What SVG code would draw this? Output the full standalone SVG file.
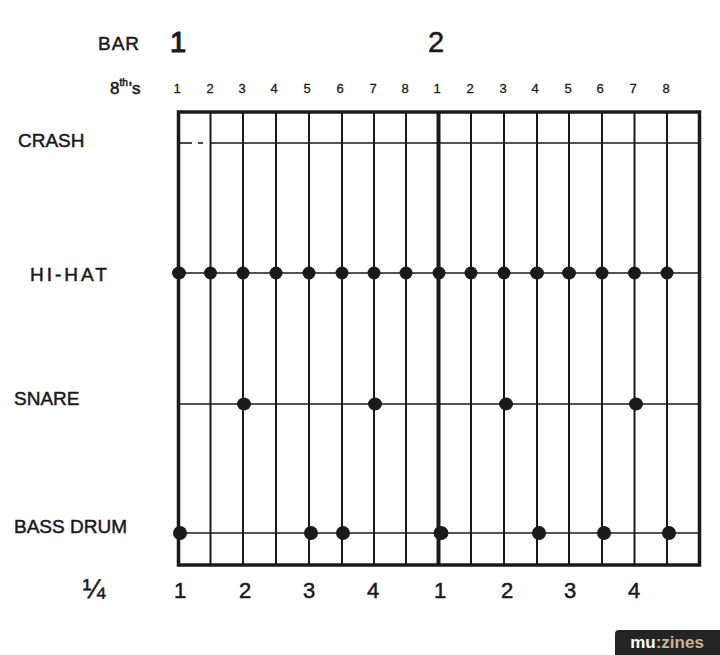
<svg xmlns="http://www.w3.org/2000/svg" width="720" height="655" viewBox="0 0 720 655">
<style>
text{font-family:"Liberation Sans","DejaVu Sans",sans-serif;fill:#1a1a1a}
.ink{stroke:#1a1a1a;stroke-width:0.5}
.lbl{font-size:19px}
.num{font-size:13px;text-anchor:middle;stroke-width:0.3}
.q{font-size:22px;text-anchor:middle}
.v{stroke:#1a1a1a;stroke-width:2}
.h{stroke:#1a1a1a;stroke-width:1.6}
.dot{fill:#1a1a1a}
</style>
<rect width="720" height="655" fill="#fff"/>
<g id="header" class="ink">
<text x="98" y="50" font-size="19" letter-spacing="1">BAR</text>
<text x="178" y="52" font-size="29" text-anchor="middle" stroke-width="1.2">1</text>
<text x="436" y="52" font-size="29" text-anchor="middle">2</text>
<text x="110" y="94" font-size="17">8<tspan font-size="10" dy="-8">th</tspan><tspan dy="8" dx="1">'s</tspan></text>
<text class="num" x="177" y="93">1</text><text class="num" x="210" y="93">2</text><text class="num" x="242" y="93">3</text><text class="num" x="274" y="93">4</text><text class="num" x="307" y="93">5</text><text class="num" x="340" y="93">6</text><text class="num" x="373" y="93">7</text><text class="num" x="405" y="93">8</text>
<text class="num" x="437" y="93">1</text><text class="num" x="470" y="93">2</text><text class="num" x="503" y="93">3</text><text class="num" x="535" y="93">4</text><text class="num" x="568" y="93">5</text><text class="num" x="600" y="93">6</text><text class="num" x="633" y="93">7</text><text class="num" x="666" y="93">8</text>
</g>
<g id="instruments" class="ink">
<text class="lbl" x="18" y="147">CRASH</text>
<text class="lbl" x="30" y="281" letter-spacing="3">HI-HAT</text>
<text class="lbl" x="14" y="405">SNARE</text>
<text class="lbl" x="14" y="533">BASS DRUM</text>
</g>
<g id="grid">
<line class="h" x1="180" y1="143" x2="192" y2="143"/>
<line class="h" x1="198" y1="143" x2="203" y2="143"/>
<line class="h" x1="210" y1="143" x2="700" y2="143"/>
<line class="h" x1="178" y1="273" x2="700" y2="273"/>
<line class="h" x1="178" y1="404" x2="700" y2="404"/>
<line class="h" x1="178" y1="533" x2="700" y2="533"/>
<g class="v">
<line x1="210.5" y1="112" x2="210.5" y2="565"/><line x1="243" y1="112" x2="243" y2="565"/><line x1="276" y1="112" x2="276" y2="565"/><line x1="309" y1="112" x2="309" y2="565"/><line x1="342" y1="112" x2="342" y2="565"/><line x1="374" y1="112" x2="374" y2="565"/><line x1="406" y1="112" x2="406" y2="565"/>
<line x1="471" y1="112" x2="471" y2="565"/><line x1="504" y1="112" x2="504" y2="565"/><line x1="537" y1="112" x2="537" y2="565"/><line x1="569" y1="112" x2="569" y2="565"/><line x1="602" y1="112" x2="602" y2="565"/><line x1="634.5" y1="112" x2="634.5" y2="565"/><line x1="667" y1="112" x2="667" y2="565"/>
</g>
<line x1="438.5" y1="112" x2="438.5" y2="565" stroke="#1a1a1a" stroke-width="4"/>
<rect x="178.5" y="112" width="521" height="453" fill="none" stroke="#1a1a1a" stroke-width="3.5"/>
</g>
<g id="hihat-hits">
<ellipse class="dot" cx="179" cy="273" rx="7" ry="6.5"/><ellipse class="dot" cx="210.5" cy="273" rx="6.5" ry="6.5"/><ellipse class="dot" cx="243" cy="273" rx="6.5" ry="6.5"/><ellipse class="dot" cx="276" cy="273" rx="6.5" ry="6.5"/><ellipse class="dot" cx="309" cy="273" rx="6.5" ry="6.5"/><ellipse class="dot" cx="342" cy="273" rx="6.5" ry="6.5"/><ellipse class="dot" cx="374" cy="273" rx="6.5" ry="6.5"/><ellipse class="dot" cx="406" cy="273" rx="6.5" ry="6.5"/>
<ellipse class="dot" cx="439" cy="273" rx="6.5" ry="6.5"/><ellipse class="dot" cx="471" cy="273" rx="6.5" ry="6.5"/><ellipse class="dot" cx="504" cy="273" rx="6.5" ry="6.5"/><ellipse class="dot" cx="537" cy="273" rx="7" ry="6.5"/><ellipse class="dot" cx="569" cy="273" rx="7" ry="6.5"/><ellipse class="dot" cx="602" cy="273" rx="6.5" ry="6.5"/><ellipse class="dot" cx="634.5" cy="273" rx="6.5" ry="6.5"/><ellipse class="dot" cx="667" cy="273" rx="6.5" ry="6.5"/>
</g>
<g id="snare-hits">
<ellipse class="dot" cx="244" cy="404" rx="7" ry="6.5"/><ellipse class="dot" cx="375" cy="404" rx="7" ry="6.5"/><ellipse class="dot" cx="506" cy="404" rx="7" ry="6.5"/><ellipse class="dot" cx="636" cy="404" rx="7" ry="6.5"/>
</g>
<g id="bass-hits">
<ellipse class="dot" cx="180" cy="533" rx="7" ry="7"/><ellipse class="dot" cx="311" cy="533" rx="7" ry="7"/><ellipse class="dot" cx="343" cy="533" rx="7" ry="7"/><ellipse class="dot" cx="441" cy="533" rx="7.5" ry="7"/><ellipse class="dot" cx="539" cy="533" rx="7" ry="7"/><ellipse class="dot" cx="604" cy="533" rx="7" ry="7"/><ellipse class="dot" cx="669" cy="533" rx="7" ry="7"/>
</g>
<g id="quarters" class="ink">
<text x="94" y="598" font-size="27" text-anchor="middle">¼</text>
<text class="q" x="180" y="598">1</text><text class="q" x="245" y="598">2</text><text class="q" x="309" y="598">3</text><text class="q" x="373" y="598">4</text>
<text class="q" x="440" y="598">1</text><text class="q" x="507" y="598">2</text><text class="q" x="570" y="598">3</text><text class="q" x="634" y="598">4</text>
</g>
<g id="logo">
<path d="M615 655 V634 Q615 630 619 630 H720 V655 Z" fill="#242424"/>
<text x="667" y="648" font-size="17" font-weight="bold" text-anchor="middle" style="fill:#fff">mu<tspan style="fill:#c8b496">:zines</tspan></text>
</g>
</svg>
